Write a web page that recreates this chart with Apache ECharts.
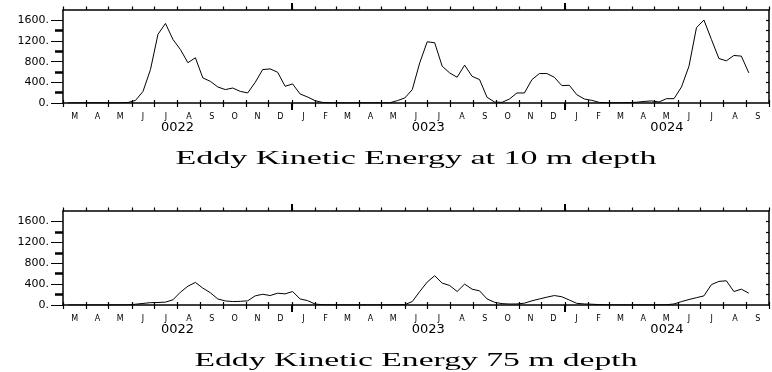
<!DOCTYPE html>
<html>
<head>
<meta charset="utf-8">
<script src="https://cdn.jsdelivr.net/npm/echarts@6/dist/echarts.min.js"></script>
<style>
  html, body { margin: 0; padding: 0; background: #fff; }
  #chart { width: 772px; height: 372px; }
</style>
</head>
<body>
<div id="chart"></div>
<script>
// Time axis: days since 1 Mar 0022 on a 365-day model calendar.
const AXIS_END = 944; // 1 Oct 0024

// Sample times (10-day means), days since 1 Mar 0022
const sampleDays = [
  7, 17, 27, 37, 47, 57, 67, 77, 87, 97,
  107, 117, 127, 137, 147, 157, 167, 177, 187, 197,
  207, 217, 227, 237, 247, 257, 267, 277, 287, 297,
  307, 317, 327, 337, 347, 357, 367, 377, 387, 397,
  407, 417, 427, 437, 447, 457, 467, 477, 487, 497,
  507, 517, 527, 537, 547, 557, 567, 577, 587, 597,
  607, 617, 627, 637, 647, 657, 667, 677, 687, 697,
  707, 717, 727, 737, 747, 757, 767, 777, 787, 797,
  807, 817, 827, 837, 847, 857, 867, 877, 887, 897,
  907, 917
];

// Eddy kinetic energy at 10 m depth
const eke10m = [
  2, 3, 5, 6, 5, 4, 3, 5, 10, 50,
  225, 650, 1330, 1540, 1230, 1035, 780, 875, 485, 420,
  310, 260, 290, 225, 195, 400, 647, 660, 595, 323,
  369, 175, 117, 45, 12, 5, 3, 2, 2, 3,
  5, 4, 3, 5, 45, 97, 258, 778, 1185, 1166,
  712, 583, 498, 733, 517, 453, 110, 19, 12, 78,
  194, 194, 453, 570, 570, 498, 336, 343, 161, 78,
  51, 12, 5, 4, 5, 8, 15, 30, 40, 20,
  84, 84, 311, 712, 1458, 1606, 1231, 861, 816, 920,
  907, 583
];

// Eddy kinetic energy at 75 m depth
const eke75m = [
  0, 0, 1, 1, 1, 1, 2, 2, 3, 15,
  30, 45, 48, 55, 100, 245, 360, 432, 323, 235,
  116, 78, 66, 70, 80, 175, 206, 181, 226, 213,
  258, 116, 84, 19, 5, 3, 2, 2, 2, 2,
  2, 2, 3, 3, 5, 8, 65, 258, 439, 561,
  419, 374, 258, 400, 303, 271, 116, 52, 26, 19,
  20, 35, 80, 116, 150, 181, 158, 95, 32, 20,
  15, 8, 5, 3, 2, 2, 2, 2, 2, 3,
  5, 20, 65, 105, 140, 175, 390, 452, 464, 258,
  303, 226
];

// Month boundaries (first day of each month) and month initials
const monthStarts = [
  0, 31, 61, 92, 122, 153, 184, 214, 245, 275,
  306, 337, 365, 396, 426, 457, 487, 518, 549, 579, 610, 640,
  671, 702, 730, 761, 791, 822, 852, 883, 914, 944
];
const monthLetters = [
  'M', 'A', 'M', 'J', 'J', 'A', 'S', 'O', 'N', 'D',
  'J', 'F', 'M', 'A', 'M', 'J', 'J', 'A', 'S', 'O', 'N', 'D',
  'J', 'F', 'M', 'A', 'M', 'J', 'J', 'A', 'S'
];

// Year boundaries and year labels
const yearStarts = [306, 671];
const yearLabels = ['0022', '0023', '0024'];

// Energy axis
const yLabelValues = [0, 400, 800, 1200, 1600];
const yMinorValues = [200, 600, 1000, 1400];
const yAllTicks = [200, 400, 600, 800, 1000, 1200, 1400, 1600];

const titles = ['Eddy Kinetic Energy at 10 m depth', 'Eddy Kinetic Energy 75 m depth'];
const panels = [eke10m, eke75m];

// ---- derived label positions ----
const monthMids = monthLetters.map((_, i) => (monthStarts[i] + monthStarts[i + 1]) / 2);
const yearBounds = [0, ...yearStarts, AXIS_END];
const yearMids = yearLabels.map((_, i) => (yearBounds[i] + yearBounds[i + 1]) / 2);

const BLACK = '#000';
const AXIS_FONT = 'DejaVu Sans';

const grids = [
  { left: 63, top: 10, width: 706, height: 93 },
  { left: 63, top: 211, width: 706, height: 94 }
];

function xAxesFor(g) {
  const base = {
    gridIndex: g, type: 'value', min: 0, max: AXIS_END,
    splitLine: { show: false }
  };
  const line = { show: true, onZero: false, lineStyle: { color: BLACK, width: 1.5 } };
  const hidden = { show: false, onZero: false };
  return [
    // bottom axis: month ticks + initials
    Object.assign({}, base, {
      position: 'bottom', axisLine: line,
      axisTick: { show: true, customValues: monthStarts, length: 4, lineStyle: { color: BLACK, width: 1.2 } },
      axisLabel: {
        show: true, customValues: monthMids, margin: 10, fontSize: 8,
        fontFamily: AXIS_FONT, color: BLACK,
        formatter: v => monthLetters[monthMids.indexOf(v)] || ''
      }
    }),
    // bottom axis: short inward month ticks
    Object.assign({}, base, {
      position: 'bottom', axisLine: hidden,
      axisTick: { show: true, inside: true, customValues: monthStarts, length: 3, lineStyle: { color: BLACK, width: 1.2 } },
      axisLabel: { show: false }
    }),
    // bottom axis: year ticks + year labels
    Object.assign({}, base, {
      position: 'bottom', axisLine: hidden,
      axisTick: { show: true, customValues: yearStarts, length: 7, lineStyle: { color: BLACK, width: 2 } },
      axisLabel: {
        show: true, customValues: yearMids, margin: 18, fontSize: 13,
        fontFamily: AXIS_FONT, color: BLACK,
        formatter: v => yearLabels[yearMids.indexOf(v)] || ''
      }
    }),
    // top frame with month ticks
    Object.assign({}, base, {
      position: 'top', axisLine: line,
      axisTick: { show: true, customValues: monthStarts, length: 3.5, lineStyle: { color: BLACK, width: 1.2 } },
      axisLabel: { show: false }
    }),
    // top frame: year ticks
    Object.assign({}, base, {
      position: 'top', axisLine: hidden,
      axisTick: { show: true, customValues: yearStarts, length: 7, lineStyle: { color: BLACK, width: 2 } },
      axisLabel: { show: false }
    })
  ];
}

function yAxesFor(g) {
  const base = {
    gridIndex: g, type: 'value', min: 0, max: 1800,
    splitLine: { show: false }
  };
  return [
    Object.assign({}, base, {
      position: 'left',
      axisLine: { show: true, onZero: false, lineStyle: { color: BLACK, width: 1.5 } },
      axisTick: { show: true, customValues: yLabelValues, length: 12, lineStyle: { color: BLACK, width: 1 } },
      axisLabel: {
        show: true, customValues: yLabelValues, margin: 14, fontSize: 11,
        fontFamily: AXIS_FONT, color: BLACK, formatter: v => v + '.'
      }
    }),
    Object.assign({}, base, {
      position: 'left',
      axisLine: { show: false, onZero: false },
      axisTick: { show: true, customValues: yMinorValues, length: 8, lineStyle: { color: BLACK, width: 2.5 } },
      axisLabel: { show: false }
    }),
    Object.assign({}, base, {
      position: 'right',
      axisLine: { show: true, onZero: false, lineStyle: { color: BLACK, width: 1.5 } },
      axisTick: { show: true, inside: true, customValues: yAllTicks, length: 3, lineStyle: { color: BLACK, width: 1.2 } },
      axisLabel: { show: false }
    })
  ];
}

const xAxis = [], yAxis = [], series = [];
panels.forEach((vals, g) => {
  const xi = xAxis.length, yi = yAxis.length;
  xAxis.push(...xAxesFor(g));
  yAxis.push(...yAxesFor(g));
  series.push({
    type: 'line', xAxisIndex: xi, yAxisIndex: yi,
    data: sampleDays.map((d, i) => [d, vals[i]]),
    showSymbol: false, symbol: 'none',
    lineStyle: { color: BLACK, width: 1 },
    silent: true
  });
});

// Panel titles, stretched horizontally to a wide plotter-style lettering
const TITLE_FONT = '18px "Liberation Serif"';
const titleWidths = [481, 443];
const titleBase = [159, 361];
const measureCtx = document.createElement('canvas').getContext('2d');
measureCtx.font = TITLE_FONT;
const graphic = titles.map((t, i) => ({
  type: 'text',
  x: 416,
  y: titleBase[i],
  scaleX: titleWidths[i] / measureCtx.measureText(t).width,
  silent: true,
  style: {
    text: t, font: TITLE_FONT, fill: BLACK,
    align: 'center', verticalAlign: 'middle'
  }
}));

const chart = echarts.init(document.getElementById('chart'), null, { renderer: 'canvas' });
chart.setOption({
  animation: false,
  backgroundColor: '#fff',
  grid: grids,
  xAxis: xAxis,
  yAxis: yAxis,
  series: series,
  graphic: graphic
});
</script>
</body>
</html>
